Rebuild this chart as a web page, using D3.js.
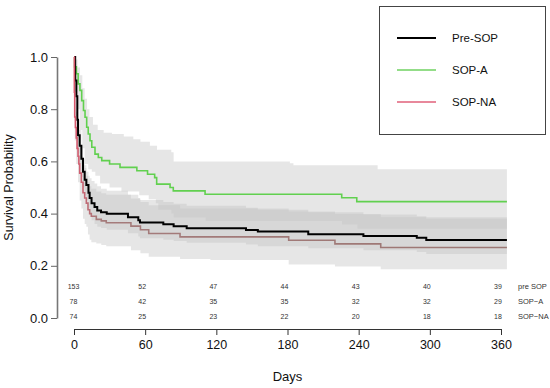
<!DOCTYPE html>
<html>
<head>
<meta charset="utf-8">
<script src="https://cdn.jsdelivr.net/npm/d3@7"></script>
<style>
  body { margin: 0; background: #fff; }
  text { font-family: "Liberation Sans", Arial, Helvetica, sans-serif; }
</style>
</head>
<body>
<div id="chart"></div>
<script>
// Kaplan-Meier steps: [day, survival]
var preSop = [[0,1],[1,0.91],[2,0.85],[2.8,0.76],[3.4,0.70],[4.8,0.66],[6.2,0.61],[7.6,0.56],[9,0.53],
  [10.4,0.51],[12.2,0.48],[13.2,0.46],[14.8,0.44],[17.3,0.425],[19.6,0.412],[22.8,0.405],[27.6,0.399],
  [45.5,0.386],[54.2,0.375],[55.6,0.366],[75.3,0.359],[84,0.352],[95,0.344],[145,0.337],[155,0.331],
  [197.5,0.321],[244,0.314],[289,0.307],[297,0.299]];
var sopA = [[0,1],[0.5,0.962],[2,0.936],[3.5,0.897],[5,0.872],[6.5,0.833],[8,0.795],[9.3,0.769],
  [10.7,0.731],[12,0.705],[13.5,0.679],[15,0.654],[17.7,0.628],[20.5,0.615],[23.4,0.603],[30,0.590],
  [38.8,0.577],[53,0.564],[62,0.551],[68,0.538],[69.7,0.513],[81,0.500],[83.7,0.487],[110.5,0.474],
  [225.7,0.461],[238.4,0.446]];
var sopNA = [[0,1],[0.3,0.865],[0.6,0.77],[1.2,0.73],[1.9,0.69],[2.6,0.65],[3.4,0.62],[4.1,0.59],
  [4.8,0.555],[6.2,0.52],[7.6,0.48],[9,0.46],[10.4,0.44],[11.8,0.415],[13.2,0.40],[14.6,0.39],
  [18.8,0.378],[23,0.372],[27.2,0.365],[48,0.352],[56,0.338],[63,0.324],[89.4,0.311],[181,0.298],
  [220,0.284],[258.6,0.270]];

// confidence limits (upper / lower), also step functions
var preSopUpper = [[0,1],[1,0.95],[2.8,0.82],[3.4,0.76],[4.8,0.72],[6.2,0.66],[7.6,0.61],[9,0.575],
  [10.4,0.56],[12.2,0.545],[13.2,0.535],[14.8,0.525],[17.3,0.515],[19.6,0.505],[22.8,0.495],[27.6,0.488],
  [45.5,0.472],[54.2,0.46],[55.6,0.452],[75.3,0.444],[84,0.438],[95,0.43],[145,0.422],[155,0.415],
  [197.5,0.405],[244,0.397],[289,0.39],[297,0.38]];
var preSopLower = [[0,1],[1,0.85],[2.8,0.69],[3.4,0.63],[4.8,0.59],[6.2,0.54],[7.6,0.50],[9,0.47],
  [10.4,0.45],[12.2,0.42],[13.2,0.40],[14.8,0.375],[17.3,0.36],[19.6,0.35],[22.8,0.345],[27.6,0.338],
  [45.5,0.325],[54.2,0.312],[55.6,0.306],[75.3,0.30],[84,0.295],[95,0.288],[145,0.282],[155,0.275],
  [197.5,0.267],[244,0.26],[289,0.253],[297,0.245]];
var sopAUpper = [[0,1],[1,0.99],[3,0.96],[5,0.93],[7,0.88],[9,0.84],[11,0.80],[13,0.77],[16,0.74],
  [20,0.72],[25,0.71],[32,0.705],[42,0.695],[50,0.685],[56,0.675],[64,0.66],[70,0.645],[82,0.635],
  [84,0.60],[182,0.593],[185,0.585],[256,0.57]];
var sopALower = [[0,1],[1,0.90],[3,0.80],[5,0.72],[7,0.65],[9,0.59],[12,0.57],[15,0.56],[18,0.545],
  [22,0.515],[30,0.50],[40,0.485],[55,0.47],[63,0.455],[69,0.44],[71,0.415],[82,0.40],[84,0.385],
  [111,0.372],[226,0.358],[239,0.342]];
var sopNAUpper = [[0,1],[0.6,0.87],[1.9,0.79],[3.4,0.72],[4.8,0.66],[6.2,0.62],[7.6,0.585],[10.4,0.545],
  [11.8,0.52],[13.2,0.505],[14.6,0.495],[18.8,0.485],[23,0.478],[27.2,0.472],[48,0.458],[56,0.444],
  [63,0.432],[89.4,0.42],[181,0.408],[220,0.398],[258.6,0.386]];
var sopNALower = [[0,1],[0.6,0.68],[1.9,0.59],[3.4,0.52],[4.8,0.45],[6.2,0.42],[7.6,0.38],[9,0.36],
  [10.4,0.35],[11.8,0.32],[13.2,0.30],[14.6,0.29],[18.8,0.285],[23,0.28],[27.2,0.275],[48,0.26],
  [56,0.248],[63,0.235],[89.4,0.226],[115,0.222],[181,0.205],[220,0.197],[258.6,0.187]];

var lastDay = 365;
var xTicks = [0, 60, 120, 180, 240, 300, 360];
var yTicks = [0, 0.2, 0.4, 0.6, 0.8, 1.0];

// numbers at risk
var riskTimes = [0, 60, 120, 180, 240, 300, 360];
var riskPre = [153, 52, 47, 44, 43, 40, 39];
var riskA = [78, 42, 35, 35, 32, 32, 29];
var riskNA = [74, 25, 23, 22, 20, 18, 18];
var riskNames = ["pre SOP", "SOP\u2212A", "SOP\u2212NA"];

var legendNames = ["Pre-SOP", "SOP-A", "SOP-NA"];

var width = 550, height = 388;
var svg = d3.select('#chart').append('svg')
  .attr('width', width)
  .attr('height', height);

var x = d3.scaleLinear().domain([0, 360]).range([74, 501]);
var y = d3.scaleLinear().domain([0, 1]).range([318, 57]);

// value of a step function at time t
function stepAt(steps, t) {
  var v = steps[0][1];
  steps.forEach(function(s) { if (s[0] <= t) v = s[1]; });
  return v;
}

/***** confidence bands *****/
function band(upper, lower) {
  var days = Array.from(new Set(upper.map(d => d[0]).concat(lower.map(d => d[0])).concat([lastDay])))
    .sort((a, b) => a - b);
  return days.map(d => ({ t: d, lo: stepAt(lower, d), hi: stepAt(upper, d) }));
}
var area = d3.area()
  .x(d => x(d.t))
  .y0(d => y(d.lo))
  .y1(d => y(d.hi))
  .curve(d3.curveStepAfter);

var line = d3.line()
  .x(d => x(d[0]))
  .y(d => y(d[1]))
  .curve(d3.curveStepAfter);

function withEnd(steps) {
  return steps.concat([[lastDay, steps[steps.length - 1][1]]]);
}

var bands = [[preSopUpper, preSopLower], [sopAUpper, sopALower], [sopNAUpper, sopNALower]];
svg.append('g').selectAll('path')
  .data(bands)
  .join('path')
  .attr('d', d => area(band(d[0], d[1])))
  .attr('fill', '#c4c4c4')
  .attr('fill-opacity', 0.42);

// the red curve reads reddish near the start and greyish-brown once inside the bands
var grad = svg.append('defs').append('linearGradient')
  .attr('id', 'redFade')
  .attr('gradientUnits', 'userSpaceOnUse')
  .attr('x1', x(0)).attr('x2', x(lastDay))
  .attr('y1', 0).attr('y2', 0);
var fadeStops = [[0, '#d9566c'], [6, '#cc6272'], [20, '#a57b7b'], [lastDay, '#9b7773']];
grad.selectAll('stop')
  .data(fadeStops)
  .join('stop')
  .attr('offset', d => (x(d[0]) - x(0)) / (x(lastDay) - x(0)))
  .attr('stop-color', d => d[1]);

svg.append('path').attr('d', line(withEnd(sopA)))
  .attr('fill', 'none').attr('stroke', '#61D04F').attr('stroke-width', 1.6);
svg.append('path').attr('d', line(withEnd(preSop)))
  .attr('fill', 'none').attr('stroke', '#000').attr('stroke-width', 2);
svg.append('path').attr('d', line(withEnd(sopNA)))
  .attr('fill', 'none').attr('stroke', 'url(#redFade)').attr('stroke-width', 1.6);

/***** axes *****/
var yAxis = d3.axisLeft(y).tickValues(yTicks).tickFormat(d3.format('.1f')).tickSize(6).tickSizeOuter(0);
var yg = svg.append('g').attr('transform', 'translate(57,0)').call(yAxis);
yg.select('.domain').attr('stroke', '#777').attr('stroke-width', 1.6);
yg.selectAll('.tick line').attr('stroke', '#666');
yg.selectAll('.tick text').attr('font-size', 13).attr('fill', '#111')
  .attr('font-family', '"Liberation Sans", Arial, sans-serif');

var xAxis = d3.axisBottom(x).tickValues(xTicks).tickSize(6).tickSizeOuter(0).tickPadding(5);
var xg = svg.append('g').attr('transform', 'translate(0,329)').call(xAxis);
xg.select('.domain').attr('stroke', '#333');
xg.selectAll('.tick line').attr('stroke', '#333');
xg.selectAll('.tick text').attr('font-size', 12.5).attr('fill', '#111')
  .attr('font-family', '"Liberation Sans", Arial, sans-serif');

svg.append('text').attr('x', 287.5).attr('y', 381)
  .attr('text-anchor', 'middle').attr('font-size', 13).attr('fill', '#111').text('Days');
svg.append('text').attr('transform', 'translate(13,187.5) rotate(-90)')
  .attr('text-anchor', 'middle').attr('font-size', 12.5).attr('fill', '#111').text('Survival Probability');

/***** numbers at risk *****/
var riskRows = [riskPre, riskA, riskNA];
var rowY = [288.5, 303.5, 318.5];
riskRows.forEach(function(row, i) {
  svg.append('g').selectAll('text')
    .data(row)
    .join('text')
    .attr('x', (d, j) => x(riskTimes[j]) - (j === 0 ? 0.5 : 3))
    .attr('y', rowY[i])
    .attr('text-anchor', 'middle')
    .attr('font-size', 7)
    .attr('fill', '#333')
    .text(d => d);
  svg.append('text').attr('x', 518).attr('y', rowY[i])
    .attr('font-size', 7.5).attr('fill', '#333').text(riskNames[i]);
});

/***** legend *****/
var legend = svg.append('g');
legend.append('rect').attr('x', 379.5).attr('y', 6.5).attr('width', 166).attr('height', 128)
  .attr('fill', '#fff').attr('stroke', '#444');
var legendColors = ['#000', '#6fd260', '#e0617a'];
legendNames.forEach(function(name, i) {
  var ly = 38 + i * 32;
  legend.append('line').attr('x1', 397).attr('x2', 436).attr('y1', ly).attr('y2', ly)
    .attr('stroke', legendColors[i]).attr('stroke-width', i === 0 ? 2 : 1.6);
  legend.append('text').attr('x', 452).attr('y', ly + 4)
    .attr('font-size', 11.5).attr('fill', '#111').text(name);
});
</script>
</body>
</html>
